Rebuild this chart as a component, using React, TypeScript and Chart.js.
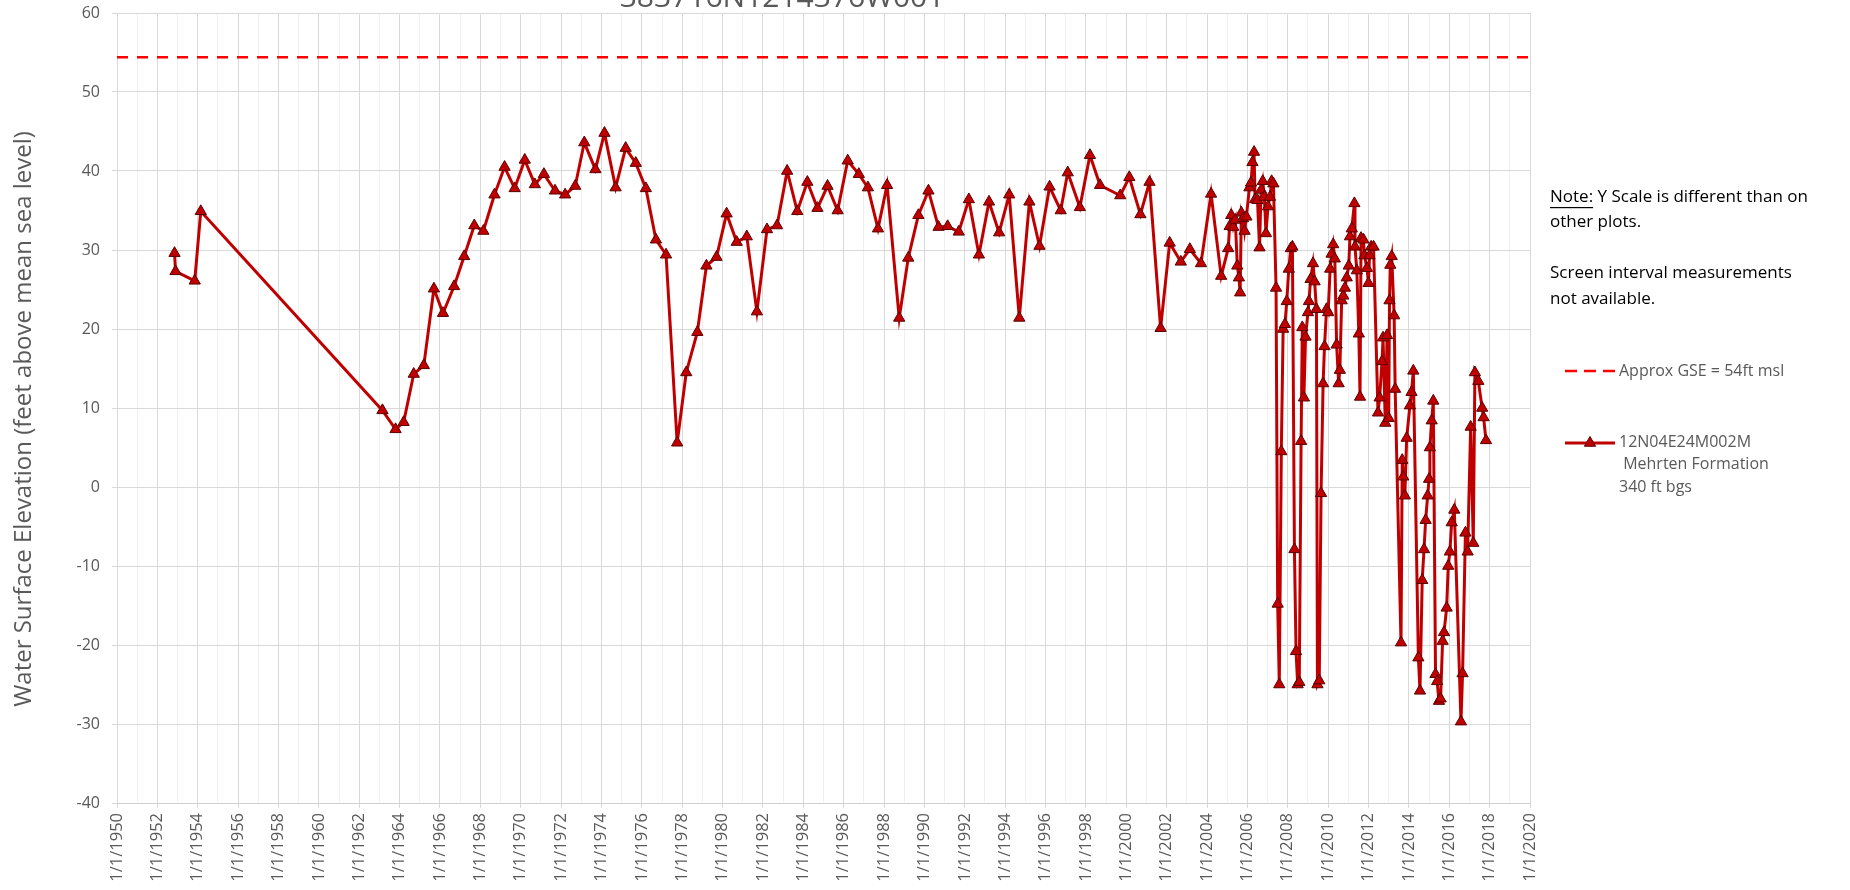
import React, { useEffect, useRef } from 'react';
import { Chart, registerables } from 'chart.js';

Chart.register(...registerables);

const FONT = '"Open Sans", "Liberation Sans", sans-serif';

const CHART_TITLE = '383716N1214376W001';
const Y_TITLE = 'Water Surface Elevation (feet above mean sea level)';
const X_MIN = 1950;
const X_MAX = 2020;
const Y_MIN = -40;
const Y_MAX = 60;
const GSE_LEVEL = 54.4;

const NOTE_LINES = ['Y Scale is different than on', 'other plots.', '', 'Screen interval measurements', 'not available.'];
const LEGEND_GSE = 'Approx GSE = 54ft msl';
const LEGEND_WELL = ['12N04E24M002M', ' Mehrten Formation', '340 ft bgs'];

// decimal year of each measurement
const sampleYears = [
  1952.85, 1952.9, 1953.85, 1954.15,
  1963.15, 1963.8, 1964.2, 1964.7, 1965.2, 1965.7, 1966.15, 1966.7, 1967.2, 1967.7, 1968.15, 1968.7,
  1969.2, 1969.7, 1970.2, 1970.7, 1971.15, 1971.7, 1972.2, 1972.7, 1973.15, 1973.7, 1974.15, 1974.7,
  1975.2, 1975.7, 1976.2, 1976.7, 1977.2, 1977.75, 1978.2, 1978.75, 1979.2, 1979.7, 1980.2, 1980.7,
  1981.2, 1981.7, 1982.2, 1982.7, 1983.2, 1983.7, 1984.2, 1984.7, 1985.2, 1985.7, 1986.2, 1986.75,
  1987.2, 1987.7, 1988.15, 1988.75, 1989.2, 1989.7, 1990.2, 1990.7, 1991.15, 1991.7, 1992.2, 1992.7,
  1993.2, 1993.7, 1994.2, 1994.7, 1995.2, 1995.7, 1996.2, 1996.75, 1997.1, 1997.7, 1998.2, 1998.7,
  1999.7, 2000.15, 2000.7, 2001.15, 2001.7, 2002.15, 2002.7, 2003.15, 2003.7, 2004.2, 2004.7,
  2005.05, 2005.12, 2005.2, 2005.3, 2005.4, 2005.5, 2005.58, 2005.64, 2005.7, 2005.78, 2005.86, 2005.95,
  2006.1, 2006.18, 2006.25, 2006.33, 2006.38, 2006.5, 2006.6, 2006.68, 2006.76, 2006.84, 2006.92,
  2007.02, 2007.12, 2007.2, 2007.29, 2007.42, 2007.5, 2007.58, 2007.68, 2007.77, 2007.86, 2007.95,
  2008.05, 2008.15, 2008.23, 2008.33, 2008.41, 2008.49, 2008.57, 2008.66, 2008.72, 2008.8, 2008.88,
  2009.0, 2009.05, 2009.13, 2009.25, 2009.33, 2009.42, 2009.47, 2009.56, 2009.65, 2009.75, 2009.82, 2009.92,
  2010.0, 2010.1, 2010.17, 2010.25, 2010.33, 2010.42, 2010.52, 2010.58, 2010.67, 2010.75, 2010.83, 2010.92,
  2011.02, 2011.08, 2011.17, 2011.3, 2011.33, 2011.42, 2011.52, 2011.58, 2011.63, 2011.75, 2011.8, 2011.92,
  2012.0, 2012.05, 2012.13, 2012.25, 2012.47, 2012.55, 2012.67, 2012.72, 2012.83, 2012.92,
  2013.0, 2013.04, 2013.08, 2013.15, 2013.27, 2013.32, 2013.61, 2013.67, 2013.72, 2013.8, 2013.89,
  2014.05, 2014.13, 2014.22, 2014.47, 2014.55, 2014.66, 2014.75, 2014.83, 2014.93,
  2015.0, 2015.04, 2015.13, 2015.21, 2015.32, 2015.4, 2015.49, 2015.57, 2015.67, 2015.74, 2015.87, 2015.95,
  2016.03, 2016.12, 2016.25, 2016.58, 2016.66, 2016.8, 2016.91,
  2017.06, 2017.19, 2017.27, 2017.44, 2017.63, 2017.7, 2017.82,
];

// water surface elevation (ft msl)
const waterLevels = [
  29.6, 27.3, 26.1, 34.9,
  9.7, 7.3, 8.2, 14.3, 15.4, 25.1, 22.0, 25.4, 29.2, 33.1, 32.4, 37.0,
  40.5, 37.8, 41.4, 38.3, 39.6, 37.5, 37.0, 38.1, 43.6, 40.2, 44.8, 37.9,
  42.9, 41.0, 37.8, 31.3, 29.4, 5.6, 14.5, 19.6, 28.0, 29.1, 34.6, 31.0,
  31.7, 22.2, 32.6, 33.1, 40.0, 34.9, 38.6, 35.3, 38.1, 35.0, 41.3, 39.6,
  37.9, 32.7, 38.2, 21.4, 29.0, 34.4, 37.5, 32.9, 33.0, 32.3, 36.4, 29.4,
  36.1, 32.2, 37.0, 21.4, 36.1, 30.5, 38.0, 35.0, 39.8, 35.4, 42.0, 38.2,
  36.9, 39.2, 34.5, 38.6, 20.1, 30.9, 28.5, 30.1, 28.3, 37.1, 26.7,
  30.2, 33.0, 34.4, 32.9, 33.8, 28.0, 26.5, 24.6, 34.7, 34.0, 32.4, 34.2,
  37.9, 38.5, 41.1, 42.4, 36.4, 36.3, 30.3, 37.6, 38.7, 36.7, 32.1,
  35.5, 36.7, 38.7, 38.4, 25.2, -14.8, -25.0, 4.5, 20.0, 20.6, 23.5,
  27.6, 30.2, 30.4, -7.9, -20.8, -25.0, -24.7, 5.8, 20.2, 11.3, 19.0,
  22.1, 23.5, 26.3, 28.3, 26.0, 22.5, -25.0, -24.5, -0.8, 13.1, 17.8, 22.5,
  22.1, 27.6, 29.5, 30.7, 28.9, 18.0, 13.1, 14.8, 23.6, 24.2, 25.2, 26.5,
  28.0, 31.7, 32.7, 35.9, 30.4, 27.4, 19.4, 11.4, 31.5, 31.3, 29.3, 27.7,
  25.8, 29.3, 30.4, 30.4, 9.4, 11.3, 15.9, 18.9, 8.1, 19.2,
  8.7, 23.6, 28.1, 29.2, 21.7, 12.4, -19.7, 3.4, 1.3, -1.1, 6.2,
  10.3, 12.0, 14.7, -21.6, -25.8, -11.8, -7.9, -4.2, -1.1,
  1.0, 5.0, 8.4, 10.9, -23.7, -24.6, -27.1, -26.8, -19.5, -18.4, -15.3, -10.0,
  -8.2, -4.5, -2.9, -29.7, -23.6, -5.8, -8.2,
  7.6, -7.1, 14.5, 13.4, 10.0, 8.8, 5.9,
];

const WELL_COLOR = '#c00000';
const MARKER_EDGE = '#5a0000';
const GSE_COLOR = '#ff0000';
const TEXT_GRAY = '#595959';

function drawTriangle(ctx: CanvasRenderingContext2D, x: number, y: number, r: number) {
  ctx.beginPath();
  for (let i = 0; i < 3; i++) {
    const a = (i * 2 * Math.PI) / 3;
    const px = x + Math.sin(a) * r;
    const py = y - Math.cos(a) * r;
    if (i === 0) ctx.moveTo(px, py);
    else ctx.lineTo(px, py);
  }
  ctx.closePath();
  ctx.fillStyle = WELL_COLOR;
  ctx.fill();
  ctx.lineWidth = 1;
  ctx.strokeStyle = MARKER_EDGE;
  ctx.stroke();
}

const overlayPlugin = {
  id: 'overlayTexts',
  afterDraw(chart: any) {
    const ctx: CanvasRenderingContext2D = chart.ctx;
    ctx.save();
    // chart title (cropped at the top edge)
    ctx.fillStyle = TEXT_GRAY;
    ctx.font = `30px ${FONT}`;
    ctx.textAlign = 'center';
    ctx.textBaseline = 'alphabetic';
    ctx.fillText(CHART_TITLE, 782, 7);

    // y axis title
    ctx.save();
    ctx.translate(24, 419);
    ctx.rotate(-Math.PI / 2);
    ctx.font = `24px ${FONT}`;
    ctx.textBaseline = 'middle';
    ctx.textAlign = 'center';
    ctx.fillText(Y_TITLE, 0, 0);
    ctx.restore();

    // note block
    ctx.fillStyle = '#000000';
    ctx.font = `17px ${FONT}`;
    ctx.textAlign = 'left';
    ctx.textBaseline = 'middle';
    const nx = 1550;
    let ny = 197;
    const noteW = ctx.measureText('Note:').width;
    ctx.fillText('Note:', nx, ny);
    ctx.fillRect(nx, ny + 10, noteW, 1.2);
    ctx.fillText(' ' + NOTE_LINES[0], nx + noteW, ny);
    for (let i = 1; i < NOTE_LINES.length; i++) {
      ny += 25.5;
      if (NOTE_LINES[i]) ctx.fillText(NOTE_LINES[i], nx, ny);
    }

    // legend: GSE
    ctx.strokeStyle = GSE_COLOR;
    ctx.lineWidth = 2.5;
    ctx.setLineDash([12, 7]);
    ctx.beginPath();
    ctx.moveTo(1565, 371);
    ctx.lineTo(1615, 371);
    ctx.stroke();
    ctx.setLineDash([]);
    ctx.fillStyle = TEXT_GRAY;
    ctx.font = `16px ${FONT}`;
    ctx.fillText(LEGEND_GSE, 1619, 371);

    // legend: well
    ctx.strokeStyle = WELL_COLOR;
    ctx.lineWidth = 3;
    ctx.beginPath();
    ctx.moveTo(1565, 443);
    ctx.lineTo(1615, 443);
    ctx.stroke();
    drawTriangle(ctx, 1590, 443, 6.5);
    ctx.fillStyle = TEXT_GRAY;
    ctx.fillText(LEGEND_WELL[0], 1619, 442);
    ctx.fillText(LEGEND_WELL[1], 1619, 464);
    ctx.fillText(LEGEND_WELL[2], 1619, 487);
    ctx.restore();
  },
};

export default function App() {
  const canvasRef = useRef<HTMLCanvasElement | null>(null);

  useEffect(() => {
    document.body.style.margin = '0';
    const canvas = canvasRef.current;
    if (!canvas) return;
    const wellData = sampleYears.map((yr, i) => ({ x: yr, y: waterLevels[i] }));
    const gseData = [
      { x: X_MIN, y: GSE_LEVEL },
      { x: X_MAX, y: GSE_LEVEL },
    ];
    const chart = new Chart(canvas, {
      type: 'scatter',
      data: {
        datasets: [
          {
            label: LEGEND_GSE,
            data: gseData,
            showLine: true,
            borderColor: GSE_COLOR,
            borderWidth: 2.5,
            borderDash: [11, 9],
            pointRadius: 0,
          },
          {
            label: LEGEND_WELL.join(' '),
            data: wellData,
            showLine: true,
            tension: 0,
            borderColor: WELL_COLOR,
            borderWidth: 3,
            pointStyle: 'triangle',
            pointRadius: 6.5,
            pointBackgroundColor: WELL_COLOR,
            pointBorderColor: MARKER_EDGE,
            pointBorderWidth: 1,
          },
        ],
      },
      options: {
        responsive: false,
        animation: false,
        events: [],
        layout: { padding: { left: 0, right: 320, top: 13, bottom: 0 } },
        plugins: {
          legend: { display: false },
          tooltip: { enabled: false },
          title: { display: false },
        },
        scales: {
          x: {
            type: 'linear',
            min: X_MIN,
            max: X_MAX,
            ticks: {
              stepSize: 1,
              autoSkip: false,
              maxRotation: 90,
              minRotation: 90,
              padding: 5,
              color: TEXT_GRAY,
              font: { family: FONT, size: 16.5 },
              callback: (v: any) => {
                const n = Math.round(Number(v));
                return n % 2 === 0 ? `1/1/${n}` : '';
              },
            },
            grid: {
              color: (c: any) => (c.tick && Math.round(c.tick.value) % 2 !== 0 ? '#f0f0f0' : '#d9d9d9'),
              tickColor: (c: any) =>
                c.tick && Math.round(c.tick.value) % 2 !== 0 ? 'rgba(0,0,0,0)' : '#d9d9d9',
              tickLength: 5,
              lineWidth: 1,
            },
            border: { color: '#d0d0d0' },
            afterFit: (s: any) => {
              s.height = 87;
              s.paddingLeft = 0;
              s.paddingRight = 0;
            },
          },
          y: {
            min: Y_MIN,
            max: Y_MAX,
            ticks: {
              stepSize: 10,
              padding: 12,
              color: TEXT_GRAY,
              font: { family: FONT, size: 16 },
            },
            grid: { color: '#d9d9d9', tickLength: 5, lineWidth: 1 },
            border: { color: '#d9d9d9' },
            afterFit: (s: any) => {
              s.width = 117;
              s.paddingTop = 0;
              s.paddingBottom = 0;
            },
          },
        },
      },
      plugins: [overlayPlugin],
    });
    return () => chart.destroy();
  }, []);

  return (
    <div style={{ width: 1850, height: 890, background: '#ffffff' }}>
      <canvas ref={canvasRef} width={1850} height={890} style={{ display: 'block' }} />
    </div>
  );
}
